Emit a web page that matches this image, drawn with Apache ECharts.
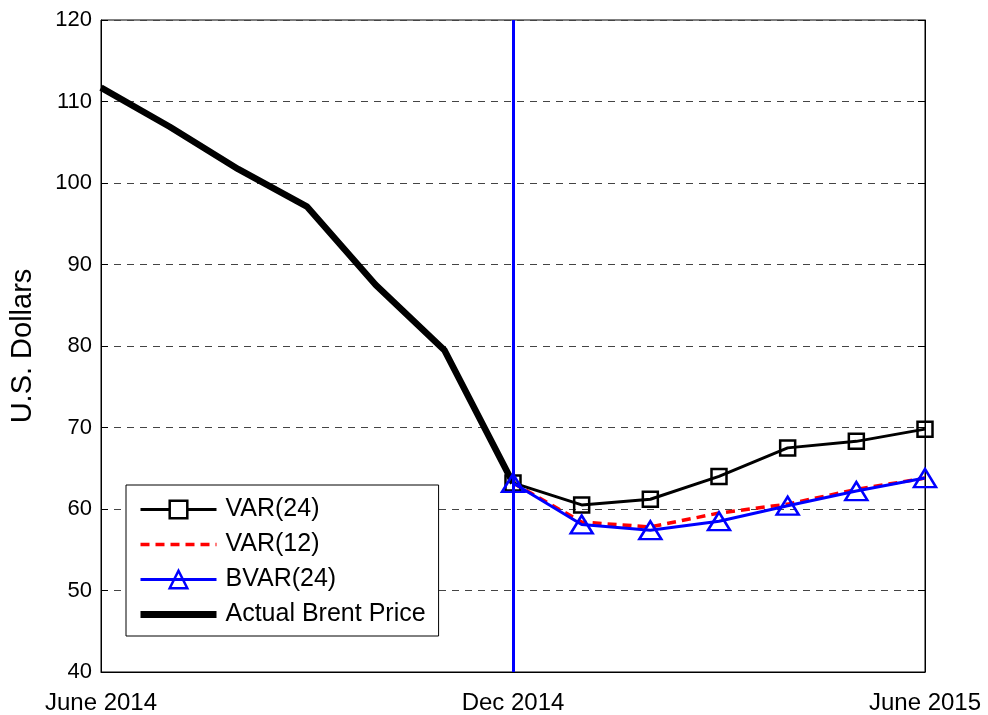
<!DOCTYPE html>
<html>
<head>
<meta charset="utf-8">
<script src="https://cdn.jsdelivr.net/npm/echarts@6/dist/echarts.min.js"></script>
<style>
html,body{margin:0;padding:0;background:#fff;}
#chart{width:988px;height:715px;}
</style>
</head>
<body>
<div id="chart"></div>
<script>
var categories = ['June 2014','July 2014','Aug 2014','Sep 2014','Oct 2014','Nov 2014','Dec 2014',
                  'Jan 2015','Feb 2015','Mar 2015','Apr 2015','May 2015','June 2015'];
var actualBrent = [111.7, 106.9, 101.7, 97.1, 87.5, 79.5, 63.2, null, null, null, null, null, null];
var var24  = [null, null, null, null, null, null, 63.2, 60.5, 61.2, 64.0, 67.5, 68.3, 69.8];
var var12  = [null, null, null, null, null, null, 63.2, 58.4, 57.8, 59.5, 60.6, 62.4, 63.8];
var bvar24 = [null, null, null, null, null, null, 63.2, 58.1, 57.4, 58.5, 60.4, 62.2, 63.8];
var forecastStart = 'Dec 2014';
var yMin = 40, yMax = 120, yStep = 10;

var FONT = 'Arial, "Liberation Sans", Helvetica, sans-serif';
var chart = echarts.init(document.getElementById('chart'), null, {renderer: 'canvas'});

var option = {
  animation: false,
  backgroundColor: '#fff',
  grid: {left: 101, right: 63, top: 20, bottom: 43, show: true, borderColor: '#000', borderWidth: 1, backgroundColor: '#fff'},
  legend: {
    orient: 'vertical',
    left: 126, top: 485,
    backgroundColor: '#fff',
    borderColor: '#000', borderWidth: 1,
    padding: [12, 13, 9, 11],
    itemWidth: 76, itemHeight: 22, itemGap: 10,
    textStyle: {fontSize: 25, color: '#000', fontFamily: FONT, padding: [0,0,0,4]},
    data: [
      {name: 'VAR(24)', itemStyle: {color: '#fff', borderColor: '#000', borderWidth: 2.5}, lineStyle: {width: 3}},
      {name: 'VAR(12)', itemStyle: {color: 'rgba(0,0,0,0)', borderWidth: 0}, lineStyle: {width: 3.5}},
      {name: 'BVAR(24)', itemStyle: {color: 'rgba(0,0,0,0)', borderColor: '#0000ff', borderWidth: 2.5}, lineStyle: {width: 3}},
      {name: 'Actual Brent Price', itemStyle: {color: 'rgba(0,0,0,0)', borderWidth: 0}, lineStyle: {width: 7}}
    ]
  },
  xAxis: {
    type: 'category',
    data: categories,
    boundaryGap: false,
    axisLine: {lineStyle: {color: '#000', width: 1}},
    axisTick: {show: false},
    axisLabel: {interval: 5, margin: 19, fontSize: 24, color: '#000', fontFamily: FONT, showMinLabel: true, showMaxLabel: true},
    splitLine: {show: false}
  },
  yAxis: [{
    type: 'value', min: yMin, max: yMax, interval: yStep,
    name: 'U.S. Dollars', nameLocation: 'middle', nameRotate: 90, nameGap: 64,
    nameTextStyle: {fontSize: 29, color: '#000', fontFamily: FONT},
    axisLine: {show: true, lineStyle: {color: '#000', width: 1}},
    axisTick: {show: true, inside: true, length: 7, lineStyle: {color: '#000'}},
    axisLabel: {fontSize: 22, color: '#000', margin: 9, fontFamily: FONT},
    splitLine: {show: true, lineStyle: {color: '#444', width: 1, type: [7, 6]}}
  }, {
    type: 'value', min: yMin, max: yMax, interval: yStep, position: 'right',
    axisLine: {show: true, lineStyle: {color: '#000', width: 1}},
    axisTick: {show: true, inside: true, length: 7, lineStyle: {color: '#000'}},
    axisLabel: {show: false},
    splitLine: {show: false}
  }],
  series: [
    {
      name: 'Actual Brent Price', type: 'line', data: actualBrent, z: 2,
      symbol: 'circle', showSymbol: false, connectNulls: false,
      lineStyle: {color: '#000', width: 6.5},
      itemStyle: {color: '#000'},
      markLine: {
        silent: true, symbol: ['none', 'none'], label: {show: false},
        lineStyle: {color: '#0000ff', width: 3, type: 'solid'},
        data: [{xAxis: forecastStart}]
      }
    },
    {
      name: 'VAR(24)', type: 'line', data: var24, z: 4,
      symbol: 'rect', symbolSize: 15, showAllSymbol: true,
      lineStyle: {color: '#000', width: 3},
      itemStyle: {color: 'rgba(0,0,0,0)', borderColor: '#000', borderWidth: 2.5}
    },
    {
      name: 'VAR(12)', type: 'line', data: var12, z: 3,
      symbol: 'circle', showSymbol: false,
      lineStyle: {color: '#ff0000', width: 3.5, type: [9, 6]},
      itemStyle: {color: '#ff0000'}
    },
    {
      name: 'BVAR(24)', type: 'line', data: bvar24, z: 5,
      symbol: 'triangle', symbolSize: [22, 18], showAllSymbol: true,
      lineStyle: {color: '#0000ff', width: 3},
      itemStyle: {color: 'rgba(0,0,0,0)', borderColor: '#0000ff', borderWidth: 2.5}
    }
  ]
};
chart.setOption(option);
</script>
</body>
</html>
